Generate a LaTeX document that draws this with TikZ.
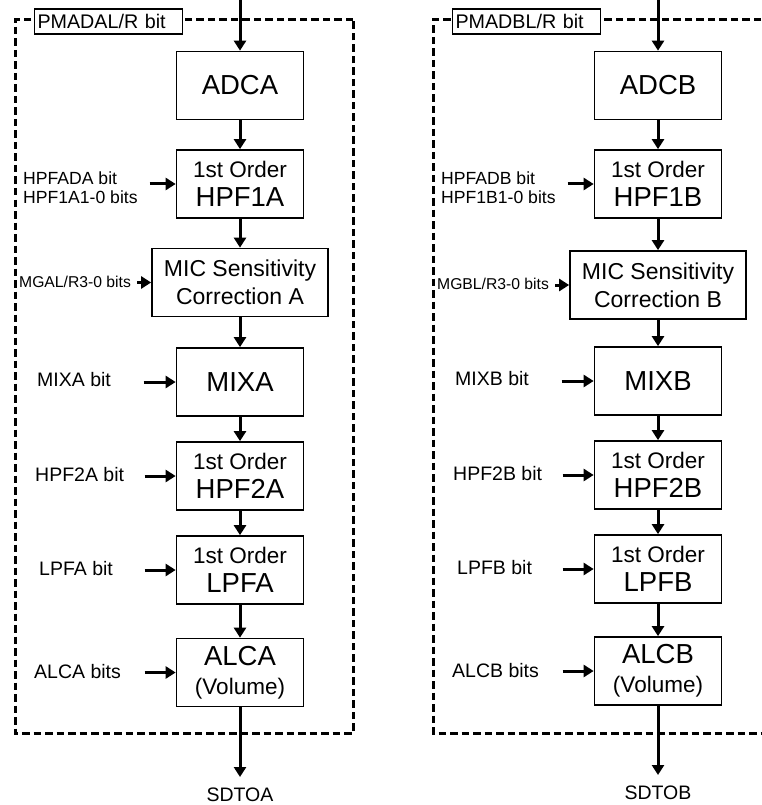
\documentclass[tikz,border=0pt]{standalone}
\usepackage{fontspec}
\setmainfont{Liberation Sans}
\usetikzlibrary{arrows.meta, positioning}

\newcommand{\ordtxt}[1]{{\fontsize{22.5}{27}\selectfont #1}}

\begin{document}
\begin{tikzpicture}[x=1pt, y=-1pt,
        blk/.style={draw, line width=1.7pt, minimum width=127pt,
                    minimum height=68pt, align=center, inner sep=0pt,
                    font=\fontsize{27.5}{29}\selectfont},
        wide/.style={blk, minimum width=176pt, font=\fontsize{23}{28}\selectfont},
        lbl/.style={anchor=west, inner sep=0pt, align=left,
                    font=\fontsize{19.5}{21}\selectfont},
        outl/.style={inner sep=0pt, font=\fontsize{19.5}{21}\selectfont},
        tag/.style={draw, fill=white, line width=1.1pt, anchor=west,
                    minimum height=25pt, inner xsep=3pt, inner ysep=0pt,
                    text width=142pt, align=left,
                    font=\fontsize{19.7}{21}\selectfont},
        arr/.style={-{Triangle[length=10pt, width=12pt]}, line width=3pt},
        frm/.style={line width=3pt, dash pattern=on 7.5pt off 4pt}
    ]
        \useasboundingbox (0,0) rectangle (761,805);

        % Channel A
        \draw[frm] (353,20) -- (15,20) -- (15,733) -- (353,733) -- cycle;
        \node[tag] (pmada) at (34,21.5) {PMADAL/R bit};
        \node[blk] (adca) at (240,85.5) {ADCA};
        \node[blk] (hpf1a) at (240,184) {\ordtxt{1st Order}\\HPF1A};
        \node[wide] (mica) at (240,282.5) {MIC Sensitivity\\Correction A};
        \node[blk] (mixa) at (240,382) {MIXA};
        \node[blk] (hpf2a) at (240,476) {\ordtxt{1st Order}\\HPF2A};
        \node[blk] (lpfa) at (240,570) {\ordtxt{1st Order}\\LPFA};
        \node[blk] (alca) at (240,672.5) {ALCA\\\ordtxt{(Volume)}};

        \node[lbl, font=\fontsize{17.6}{19}\selectfont] (hpfada) at (23,188) {HPFADA bit\\HPF1A1-0 bits};
        \node[lbl, font=\fontsize{15.7}{17}\selectfont] (mgala) at (19,282) {MGAL/R3-0 bits};
        \node[lbl] (mixabit) at (37,380) {MIXA bit};
        \node[lbl] (hpf2abit) at (35,475) {HPF2A bit};
        \node[lbl] (lpfabit) at (39,569) {LPFA bit};
        \node[lbl] (alcabits) at (34,672) {ALCA bits};

        \coordinate (inA) at (240,0);
        \coordinate (outA) at (240,777);
        \node[outl, below=11pt of outA] (sdtoa) {SDTOA};
        \coordinate[left=26pt of hpf1a] (hpf1ain);
        \coordinate[left=14pt of mica] (micain);
        \coordinate[left=32pt of mixa] (mixain);
        \coordinate[left=31pt of hpf2a] (hpf2ain);
        \coordinate[left=31pt of lpfa] (lpfain);
        \coordinate[left=31pt of alca] (alcain);

        \draw[arr] (inA) -- (adca);
        \draw[arr] (adca) -- (hpf1a);
        \draw[arr] (hpf1a) -- (mica);
        \draw[arr] (mica) -- (mixa);
        \draw[arr] (mixa) -- (hpf2a);
        \draw[arr] (hpf2a) -- (lpfa);
        \draw[arr] (lpfa) -- (alca);
        \draw[arr] (alca) -- (outA);
        \draw[arr] (hpf1ain) -- (hpf1a);
        \draw[arr] (micain) -- (mica);
        \draw[arr] (mixain) -- (mixa);
        \draw[arr] (hpf2ain) -- (hpf2a);
        \draw[arr] (lpfain) -- (lpfa);
        \draw[arr] (alcain) -- (alca);

        % Channel B
        \draw[frm] (761,20) -- (433,20) -- (433,733) -- (761,733);
        \node[tag] (pmadb) at (452,21.5) {PMADBL/R bit};
        \node[blk] (adcb) at (658,85.5) {ADCB};
        \node[blk] (hpf1b) at (658,184) {\ordtxt{1st Order}\\HPF1B};
        \node[wide] (micb) at (658,285) {MIC Sensitivity\\Correction B};
        \node[blk] (mixb) at (658,381) {MIXB};
        \node[blk] (hpf2b) at (658,475) {\ordtxt{1st Order}\\HPF2B};
        \node[blk] (lpfb) at (658,569) {\ordtxt{1st Order}\\LPFB};
        \node[blk] (alcb) at (658,671) {ALCB\\\ordtxt{(Volume)}};

        \node[lbl, font=\fontsize{17.6}{19}\selectfont] (hpfadb) at (441,188) {HPFADB bit\\HPF1B1-0 bits};
        \node[lbl, font=\fontsize{15.7}{17}\selectfont] (mgblb) at (437,284) {MGBL/R3-0 bits};
        \node[lbl] (mixbbit) at (455,379) {MIXB bit};
        \node[lbl] (hpf2bbit) at (453,474) {HPF2B bit};
        \node[lbl] (lpfbbit) at (457,568) {LPFB bit};
        \node[lbl] (alcbbits) at (452,671) {ALCB bits};

        \coordinate (inB) at (658,0);
        \coordinate (outB) at (658,775);
        \node[outl, below=11pt of outB] (sdtob) {SDTOB};
        \coordinate[left=26pt of hpf1b] (hpf1bin);
        \coordinate[left=14pt of micb] (micbin);
        \coordinate[left=32pt of mixb] (mixbin);
        \coordinate[left=31pt of hpf2b] (hpf2bin);
        \coordinate[left=31pt of lpfb] (lpfbin);
        \coordinate[left=31pt of alcb] (alcbin);

        \draw[arr] (inB) -- (adcb);
        \draw[arr] (adcb) -- (hpf1b);
        \draw[arr] (hpf1b) -- (micb);
        \draw[arr] (micb) -- (mixb);
        \draw[arr] (mixb) -- (hpf2b);
        \draw[arr] (hpf2b) -- (lpfb);
        \draw[arr] (lpfb) -- (alcb);
        \draw[arr] (alcb) -- (outB);
        \draw[arr] (hpf1bin) -- (hpf1b);
        \draw[arr] (micbin) -- (micb);
        \draw[arr] (mixbin) -- (mixb);
        \draw[arr] (hpf2bin) -- (hpf2b);
        \draw[arr] (lpfbin) -- (lpfb);
        \draw[arr] (alcbin) -- (alcb);
    \end{tikzpicture}
\end{document}
